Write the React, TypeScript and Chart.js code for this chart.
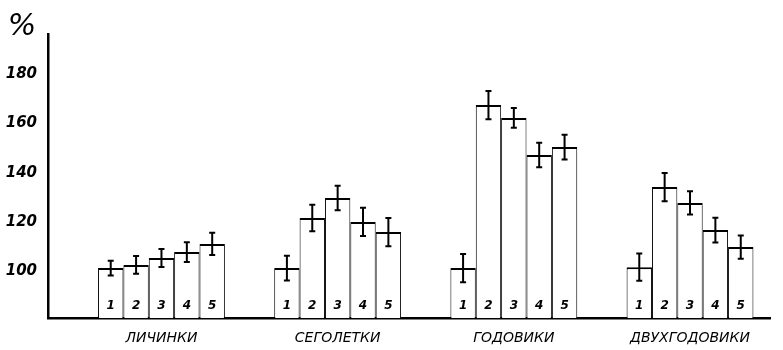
import React, { useEffect, useRef } from "react";
import { Chart, registerables } from "chart.js";

Chart.register(...registerables);

const groups = ["ЛИЧИНКИ", "СЕГОЛЕТКИ", "ГОДОВИКИ", "ДВУХГОДОВИКИ"];
const barLabels = ["1", "2", "3", "4", "5"];
const yTicks = [100, 120, 140, 160, 180];

const larvaeValues = [100.2, 101.5, 104.3, 106.7, 110.0];
const larvaeErrors = [3.0, 3.6, 3.6, 4.0, 4.5];
const fingerlingValues = [100.2, 120.5, 128.6, 118.9, 114.8];
const fingerlingErrors = [5.0, 5.4, 5.0, 5.7, 5.7];
const yearlingValues = [100.2, 166.2, 161.0, 146.0, 149.2];
const yearlingErrors = [5.7, 5.7, 4.0, 5.0, 5.0];
const twoYearValues = [100.6, 133.0, 126.6, 115.6, 108.7];
const twoYearErrors = [5.5, 5.7, 4.7, 5.0, 4.7];

const groupValues = [larvaeValues, fingerlingValues, yearlingValues, twoYearValues];
const groupErrors = [larvaeErrors, fingerlingErrors, yearlingErrors, twoYearErrors];

const FONT = "'DejaVu Sans', sans-serif";

const extrasPlugin = {
  id: "extras",
  afterDatasetsDraw(chart: any) {
    const ctx = chart.ctx;
    const yScale = chart.scales.y;
    ctx.save();
    ctx.strokeStyle = "#000";
    ctx.fillStyle = "#000";
    ctx.lineWidth = 2;
    chart.data.datasets.forEach((ds: any, i: number) => {
      const meta = chart.getDatasetMeta(i);
      meta.data.forEach((el: any, j: number) => {
        const v = groupValues[j][i];
        const e = groupErrors[j][i];
        const x = el.x;
        const yT = yScale.getPixelForValue(v + e);
        const yB = yScale.getPixelForValue(v - e);
        ctx.beginPath();
        ctx.moveTo(x, yT);
        ctx.lineTo(x, yB);
        ctx.moveTo(x - 3, yT);
        ctx.lineTo(x + 3, yT);
        ctx.moveTo(x - 3, yB);
        ctx.lineTo(x + 3, yB);
        ctx.stroke();
        ctx.font = `italic bold 12px ${FONT}`;
        ctx.textAlign = "center";
        ctx.textBaseline = "middle";
        ctx.fillText(barLabels[i], x, 306);
      });
    });
    ctx.font = `italic 30px ${FONT}`;
    ctx.textAlign = "center";
    ctx.textBaseline = "middle";
    ctx.fillText("%", 22, 27);
    ctx.restore();
  },
};

export default function App() {
  const canvasRef = useRef<HTMLCanvasElement | null>(null);

  useEffect(() => {
    if (!canvasRef.current) return;
    const datasets = barLabels.map((lbl, i) => ({
      label: lbl,
      data: groups.map((g, gi) => ({ x: gi + 1, y: groupValues[gi][i] })),
      backgroundColor: "#fff",
      borderColor: "#000",
      borderWidth: { top: 2, left: 1, right: 1, bottom: 0 },
      borderSkipped: false,
      categoryPercentage: 0.72,
      barPercentage: 1.0,
    }));
    const chart = new Chart(canvasRef.current, {
      type: "bar",
      data: { datasets },
      options: {
        animation: false,
        responsive: false,
        devicePixelRatio: 1,
        layout: { padding: { top: 34, right: 13, left: 0, bottom: 0 } },
        plugins: { legend: { display: false }, tooltip: { enabled: false } },
        scales: {
          x: {
            type: "linear",
            min: 0.356,
            max: 4.454,
            offset: false,
            bounds: "data",
            grid: { display: false, drawTicks: false, offset: false },
            border: { display: true, color: "#000", width: 2.5 },
            afterBuildTicks: (scale: any) => {
              scale.ticks = groups.map((g, i) => ({ value: i + 1 }));
            },
            afterFit: (scale: any) => {
              scale.height = 32;
            },
            ticks: {
              color: "#000",
              padding: 12,
              autoSkip: false,
              maxRotation: 0,
              font: { family: FONT, size: 14, style: "italic" },
              callback: (v: any) => groups[Math.round(v) - 1] ?? "",
            },
          },
          y: {
            min: 80,
            max: 195,
            grid: { display: false, drawTicks: false },
            border: { display: true, color: "#000", width: 2.5 },
            afterBuildTicks: (scale: any) => {
              scale.ticks = yTicks.map((v) => ({ value: v }));
            },
            afterFit: (scale: any) => {
              scale.width = 48;
            },
            ticks: {
              color: "#000",
              padding: 11,
              labelOffset: 3,
              font: { family: FONT, size: 15, style: "italic", weight: "bold" },
              callback: (v: any) => String(v),
            },
          },
        },
      },
      plugins: [extrasPlugin],
    });
    return () => chart.destroy();
  }, []);

  return (
    <div style={{ position: "fixed", left: 0, top: 0, width: 783, height: 350, background: "#fff" }}>
      <canvas ref={canvasRef} width={783} height={350} style={{ width: 783, height: 350 }} />
    </div>
  );
}
